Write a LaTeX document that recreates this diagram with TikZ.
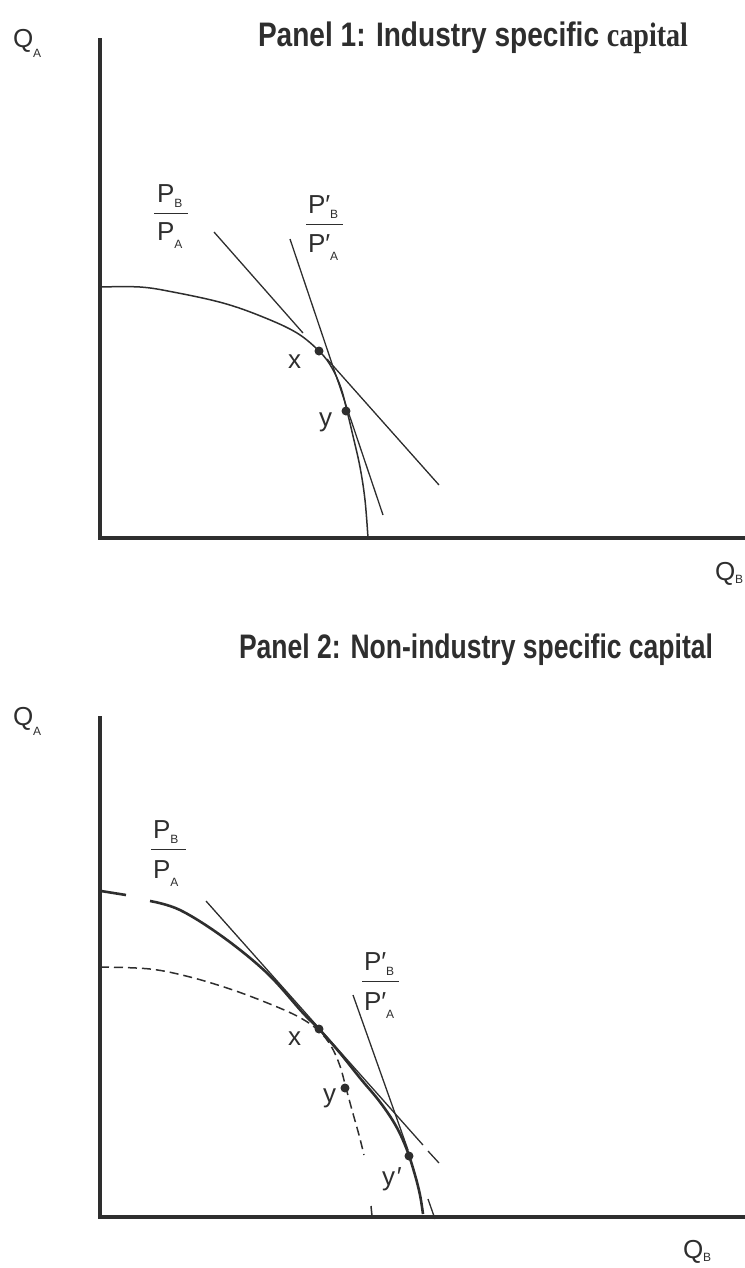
\documentclass[tikz,border=0pt]{standalone}
\usepackage{fontspec}
\usepackage{graphicx}
\setmainfont{Liberation Sans}
\newfontfamily\serifbf{Liberation Serif}
\definecolor{ink}{HTML}{2E2E2E}
\newcommand\sbx[2]{\raisebox{-#1}{\fontsize{12bp}{12bp}\selectfont #2}}
\newcommand\prm{′}
\begin{document}
\begin{tikzpicture}[x=1bp,y=-1bp,
  axisline/.style={draw=ink,line width=3.4bp},
  ppf/.style={draw=ink,line width=1.5bp},
  ppfthick/.style={draw=ink,line width=2.6bp},
  ppfold/.style={draw=ink,line width=1.5bp,dash pattern=on 9bp off 5bp},
  tangent/.style={draw=ink,line width=1.3bp},
  fracbar/.style={draw=ink,line width=1bp},
  lab/.style={anchor=base west,inner sep=0,outer sep=0,text=ink,font=\fontsize{26bp}{30bp}\selectfont},
  ttl/.style={anchor=base west,inner sep=0,outer sep=0,text=ink,font=\fontsize{34bp}{40bp}\selectfont\bfseries},
  dotpt/.style={circle,fill=ink,inner sep=0,minimum size=9bp}]
\useasboundingbox (0,0) rectangle (745,1268);

% ---------------- Panel 1 ----------------
\node[ttl] (t1) at (258,46) {\resizebox{430bp}{\height}{Panel 1: Industry specific {\serifbf\bfseries capital}}};
\coordinate (o1) at (100,538);
\coordinate (yt1) at (100,38);
\coordinate (xe1) at (745,538);
\draw[axisline] (yt1) -- (o1) -- (xe1);
\node[lab] (qa1) at (13,47) {Q\sbx{10bp}{A}};
\node[lab] (qb1) at (715,580) {Q\sbx{3bp}{B}};

\draw[ppf] plot[smooth,tension=0.6] coordinates {(100,287) (140,287) (173,292) (223,303) (263,317) (297,333) (320,352) (332,368) (341,388) (347,411) (353,436) (360,467) (365,500) (368,538)};

\coordinate (a1) at (214,232); \coordinate (a2) at (303,333);
\coordinate (a3) at (327,359); \coordinate (a4) at (439,485);
\draw[tangent] (a1) -- (a2) (a3) -- (a4);
\coordinate (b1) at (290,239); \coordinate (b2) at (383,515);
\draw[tangent] (b1) -- (b2);

\node[dotpt] (px1) at (319,351) {};
\node[dotpt] (py1) at (346,411) {};
\node[lab] (lx1) at (288,368) {x};
\node[lab] (ly1) at (319,426) {y};

\node[lab] (f1n) at (157,202) {P\sbx{5bp}{B}};
\node[lab] (f1d) at (157,240) {P\sbx{8bp}{A}};
\coordinate (f1l) at (154,213); \coordinate (f1r) at (188,213);
\draw[fracbar] (f1l) -- (f1r);
\node[lab] (f2n) at (308,213) {P\prm\sbx{5bp}{B}};
\node[lab] (f2d) at (308,252) {P\prm\sbx{8bp}{A}};
\coordinate (f2l) at (306,224); \coordinate (f2r) at (343,224);
\draw[fracbar] (f2l) -- (f2r);

% ---------------- Panel 2 ----------------
\node[ttl] (t2) at (239,658) {\resizebox{474bp}{\height}{Panel 2: Non-industry specific capital}};
\coordinate (o2) at (100,1217);
\coordinate (yt2) at (100,716);
\coordinate (xe2) at (745,1217);
\draw[axisline] (yt2) -- (o2) -- (xe2);
\node[lab] (qa2) at (13,725) {Q\sbx{10bp}{A}};
\node[lab] (qb2) at (683,1258) {Q\sbx{3bp}{B}};

% new PPF (thick)
\coordinate (c1) at (101,891); \coordinate (c2) at (126,895);
\draw[ppfthick] (c1) -- (c2);
\draw[ppfthick] plot[smooth,tension=0.6] coordinates {(150,901) (180,910) (223,937) (267,973) (303,1013) (319,1029) (340,1053) (360,1078) (380,1102) (396,1126) (407,1150) (415,1175) (420,1195) (423,1214)};

% old PPF (dashed)
\draw[ppfold] plot[smooth,tension=0.6] coordinates {(100,967) (150,969) (190,977) (230,989) (265,1002) (297,1016) (318,1030) (331,1046) (340,1066) (346,1088) (352,1110) (359,1135) (364,1155)};
\coordinate (d1) at (371,1206); \coordinate (d2) at (372,1216);
\draw[ppf] (d1) -- (d2);

% tangent lines
\coordinate (e1) at (206,901); \coordinate (e2) at (423,1145);
\coordinate (e3) at (428,1151); \coordinate (e4) at (439,1163);
\draw[tangent] (e1) -- (e2) (e3) -- (e4);
\coordinate (g1) at (353,995); \coordinate (g2) at (408,1150);
\coordinate (g3) at (428,1199); \coordinate (g4) at (435,1219);
\draw[tangent] (g1) -- (g2) (g3) -- (g4);

\node[dotpt] (px2) at (319,1029) {};
\node[dotpt] (py2) at (345,1088) {};
\node[dotpt] (pyy2) at (409,1156) {};
\node[lab] (lx2) at (288,1045) {x};
\node[lab] (ly2) at (323,1102) {y};
\node[lab] (lyy2) at (382,1185) {y\kern2bp′};

\node[lab] (f3n) at (153,838) {P\sbx{5bp}{B}};
\node[lab] (f3d) at (153,878) {P\sbx{8bp}{A}};
\coordinate (f3l) at (151,849); \coordinate (f3r) at (186,849);
\draw[fracbar] (f3l) -- (f3r);
\node[lab] (f4n) at (364,970) {P\prm\sbx{5bp}{B}};
\node[lab] (f4d) at (364,1010) {P\prm\sbx{8bp}{A}};
\coordinate (f4l) at (362,981); \coordinate (f4r) at (399,981);
\draw[fracbar] (f4l) -- (f4r);
\end{tikzpicture}
\end{document}
